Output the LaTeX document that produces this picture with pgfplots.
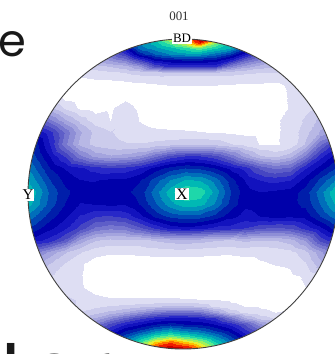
\documentclass[border=0pt]{standalone}
\usepackage{pgfplots}
\pgfplotsset{compat=1.18}
\usepackage{fontspec}
\newfontfamily\bigfont{Poppins}
\newfontfamily\labfont{Liberation Serif}
\begin{document}
\begin{tikzpicture}
\begin{axis}[name=ax, at={(0,0)}, anchor=south west, scale only axis,
  width=335bp, height=354bp, xmin=0, xmax=335, ymin=0, ymax=354,
  y dir=reverse, hide axis,
  colormap={pf}{rgb255=(255,255,255) rgb255=(222,222,243) rgb255=(204,204,236)
    rgb255=(184,184,229) rgb255=(164,164,222) rgb255=(142,142,214) rgb255=(118,118,207)
    rgb255=(94,94,200) rgb255=(70,70,194) rgb255=(40,40,200) rgb255=(18,18,190)
    rgb255=(0,0,170) rgb255=(0,30,170) rgb255=(0,70,180) rgb255=(0,110,186)
    rgb255=(0,150,186) rgb255=(0,185,180) rgb255=(30,215,170) rgb255=(90,235,140)
    rgb255=(160,240,90) rgb255=(230,240,50) rgb255=(255,190,0) rgb255=(255,110,0)
    rgb255=(240,30,0) rgb255=(200,0,0) rgb255=(200,0,0)},
  colormap access=piecewise constant,
  point meta min=0, point meta max=25]
% top region
\addplot[surf, shader=interp, mesh/rows=9, mesh/cols=17, point meta=explicit] coordinates {
(65,36)[1] (80,36)[2] (95,36)[5] (110,36)[9.5] (125,36)[13] (140,36)[15] (155,36)[17] (170,36)[21] (185,36)[24] (200,36)[25] (215,36)[22] (230,36)[17] (245,36)[15] (260,36)[13] (275,36)[8] (290,36)[4] (305,36)[3]
(65,42)[1] (80,42)[2] (95,42)[5] (110,42)[9] (125,42)[12] (140,42)[14.5] (155,42)[16] (170,42)[18] (185,42)[20] (200,42)[23.2] (215,42)[19] (230,42)[16.5] (245,42)[14] (260,42)[12] (275,42)[7] (290,42)[3.5] (305,42)[2.5]
(65,48)[1.2] (80,48)[2] (95,48)[4.5] (110,48)[8] (125,48)[10.5] (140,48)[14] (155,48)[15] (170,48)[16] (185,48)[17] (200,48)[18] (215,48)[16.5] (230,48)[15.5] (245,48)[12.5] (260,48)[10] (275,48)[6] (290,48)[3] (305,48)[2.2]
(65,54)[1.3] (80,54)[2] (95,54)[4] (110,54)[6.5] (125,54)[8.5] (140,54)[12] (155,54)[13.5] (170,54)[14.5] (185,54)[15] (200,54)[15] (215,54)[14] (230,54)[12.5] (245,54)[10] (260,54)[7.5] (275,54)[5] (290,54)[3] (305,54)[2.2]
(65,60)[1.3] (80,60)[2] (95,60)[3.5] (110,60)[5] (125,60)[6] (140,60)[8.5] (155,60)[10.8] (170,60)[11.3] (185,60)[11.6] (200,60)[11.6] (215,60)[11.2] (230,60)[9.6] (245,60)[7] (260,60)[5.5] (275,60)[4] (290,60)[2.8] (305,60)[2.2]
(65,66)[1.2] (80,66)[1.6] (95,66)[2.5] (110,66)[3] (125,66)[3.5] (140,66)[5] (155,66)[8] (170,66)[9.1] (185,66)[9.1] (200,66)[9.1] (215,66)[9.1] (230,66)[6] (245,66)[4.5] (260,66)[3.5] (275,66)[3] (290,66)[2.5] (305,66)[2.2]
(65,72)[0.9] (80,72)[1.2] (95,72)[1.5] (110,72)[1.8] (125,72)[2] (140,72)[2.5] (155,72)[2.8] (170,72)[3] (185,72)[3] (200,72)[3] (215,72)[3] (230,72)[2.6] (245,72)[2.2] (260,72)[2] (275,72)[2] (290,72)[2.2] (305,72)[2.2]
(65,78)[0.7] (80,78)[0.9] (95,78)[1.05] (110,78)[1.1] (125,78)[1.2] (140,78)[1.35] (155,78)[1.4] (170,78)[1.35] (185,78)[1.35] (200,78)[1.35] (215,78)[1.35] (230,78)[1.4] (245,78)[1.35] (260,78)[1.3] (275,78)[1.3] (290,78)[1.6] (305,78)[2]
(65,84)[0.4] (80,84)[0.5] (95,84)[0.55] (110,84)[0.65] (125,84)[0.75] (140,84)[0.85] (155,84)[0.95] (170,84)[1.05] (185,84)[1.05] (200,84)[1.05] (215,84)[1.05] (230,84)[1] (245,84)[0.9] (260,84)[0.9] (275,84)[0.8] (290,84)[1.15] (305,84)[1.6]
};
% middle region
\addplot[surf, shader=interp, mesh/rows=19, mesh/cols=23, point meta=explicit] coordinates {
(20,84)[0.5] (35,84)[0.5] (50,84)[0.5] (65,84)[0.4] (80,84)[0.5] (95,84)[0.55] (110,84)[0.65] (125,84)[0.75] (140,84)[0.85] (155,84)[0.95] (170,84)[1.05] (185,84)[1.05] (200,84)[1.05] (215,84)[1.05] (230,84)[1] (245,84)[0.9] (260,84)[0.9] (275,84)[0.8] (290,84)[1.15] (305,84)[1.6] (320,84)[2] (335,84)[2.2] (350,84)[2.2]
(20,96)[1.5] (35,96)[1.2] (50,96)[0.9] (65,96)[0.5] (80,96)[0.3] (95,96)[0.2] (110,96)[0.3] (125,96)[0.7] (140,96)[0.3] (155,96)[0.2] (170,96)[0.1] (185,96)[0.1] (200,96)[0.1] (215,96)[0.1] (230,96)[0.1] (245,96)[0.1] (260,96)[0.2] (275,96)[0.5] (290,96)[1.1] (305,96)[1.5] (320,96)[2] (335,96)[2.2] (350,96)[2.2]
(20,108)[5] (35,108)[4.5] (50,108)[3.2] (65,108)[1.8] (80,108)[0.8] (95,108)[0.6] (110,108)[0.85] (125,108)[1.35] (140,108)[0.75] (155,108)[0.3] (170,108)[0.2] (185,108)[0.2] (200,108)[0.2] (215,108)[0.2] (230,108)[0.2] (245,108)[0.2] (260,108)[0.2] (275,108)[0.5] (290,108)[1.05] (305,108)[1.6] (320,108)[2.2] (335,108)[2.5] (350,108)[2.5]
(20,120)[9] (35,120)[8] (50,120)[6] (65,120)[4] (80,120)[2.5] (95,120)[1.4] (110,120)[0.95] (125,120)[1.7] (140,120)[0.9] (155,120)[0.6] (170,120)[0.5] (185,120)[0.5] (200,120)[0.4] (215,120)[0.4] (230,120)[0.4] (245,120)[0.4] (260,120)[0.5] (275,120)[0.8] (290,120)[1.3] (305,120)[2.1] (320,120)[3.2] (335,120)[3.8] (350,120)[3.8]
(20,132)[12] (35,132)[10.5] (50,132)[9] (65,132)[6.5] (80,132)[4] (95,132)[2.6] (110,132)[2] (125,132)[1.6] (140,132)[1.3] (155,132)[1.15] (170,132)[1.1] (185,132)[1.05] (200,132)[1] (215,132)[0.9] (230,132)[0.8] (245,132)[0.7] (260,132)[0.7] (275,132)[0.8] (290,132)[1.3] (305,132)[2.5] (320,132)[4] (335,132)[5] (350,132)[5]
(20,144)[13] (35,144)[12] (50,144)[9.5] (65,144)[6] (80,144)[3.5] (95,144)[2.5] (110,144)[2.2] (125,144)[2] (140,144)[2] (155,144)[2.2] (170,144)[2.5] (185,144)[2.7] (200,144)[2.7] (215,144)[2.5] (230,144)[2] (245,144)[1.5] (260,144)[0.9] (275,144)[0.85] (290,144)[1.2] (305,144)[3] (320,144)[6.5] (335,144)[9] (350,144)[9.5]
(20,156)[14] (35,156)[12.5] (50,156)[10.5] (65,156)[8.5] (80,156)[6] (95,156)[4.5] (110,156)[4] (125,156)[4.3] (140,156)[5] (155,156)[6.5] (170,156)[8] (185,156)[8.7] (200,156)[8.7] (215,156)[8] (230,156)[6.5] (245,156)[4.5] (260,156)[3] (275,156)[2.6] (290,156)[3.5] (305,156)[6] (320,156)[9.2] (335,156)[11] (350,156)[12]
(20,168)[15.5] (35,168)[13.5] (50,168)[11.5] (65,168)[10.5] (80,168)[9.8] (95,168)[9.2] (110,168)[8.8] (125,168)[9] (140,168)[9.7] (155,168)[11] (170,168)[12] (185,168)[12.5] (200,168)[12.3] (215,168)[11.5] (230,168)[10.3] (245,168)[9.2] (260,168)[7.5] (275,168)[6.5] (290,168)[7] (305,168)[9.5] (320,168)[11] (335,168)[12.5] (350,168)[13.5]
(20,180)[16.5] (35,180)[14.5] (50,180)[12.5] (65,180)[11.2] (80,180)[10.6] (95,180)[10.5] (110,180)[10.8] (125,180)[10.8] (140,180)[11.5] (155,180)[13] (170,180)[14.5] (185,180)[15.5] (200,180)[15.3] (215,180)[14] (230,180)[12] (245,180)[10.5] (260,180)[9.6] (275,180)[9.3] (290,180)[9.6] (305,180)[11] (320,180)[12.8] (335,180)[14.5] (350,180)[15.5]
(20,192)[17] (35,192)[15.5] (50,192)[13.2] (65,192)[11.8] (80,192)[11] (95,192)[11.2] (110,192)[11.5] (125,192)[11.3] (140,192)[12] (155,192)[14] (170,192)[16] (185,192)[17.3] (200,192)[17] (215,192)[15] (230,192)[12.6] (245,192)[11] (260,192)[10.6] (275,192)[10.8] (290,192)[11] (305,192)[12] (320,192)[14] (335,192)[16.3] (350,192)[17]
(20,204)[16.5] (35,204)[15] (50,204)[13] (65,204)[11.5] (80,204)[10.5] (95,204)[10.6] (110,204)[10.8] (125,204)[10.7] (140,204)[11.6] (155,204)[13.3] (170,204)[15] (185,204)[16] (200,204)[15.8] (215,204)[14.3] (230,204)[12.2] (245,204)[10.8] (260,204)[11] (275,204)[11.3] (290,204)[11.2] (305,204)[11.8] (320,204)[13.5] (335,204)[15.5] (350,204)[16.5]
(20,216)[15] (35,216)[13.5] (50,216)[12] (65,216)[10.8] (80,216)[9.5] (95,216)[8.7] (110,216)[8.6] (125,216)[9] (140,216)[10.3] (155,216)[11.8] (170,216)[12.8] (185,216)[13.2] (200,216)[13] (215,216)[12.2] (230,216)[11] (245,216)[10.2] (260,216)[10.6] (275,216)[11] (290,216)[10.8] (305,216)[11] (320,216)[12.5] (335,216)[14] (350,216)[15]
(20,228)[13] (35,228)[12] (50,228)[10.8] (65,228)[9.8] (80,228)[8.3] (95,228)[6.5] (110,228)[6] (125,228)[6.3] (140,228)[7.5] (155,228)[8.8] (170,228)[9.9] (185,228)[10.3] (200,228)[9.9] (215,228)[9.3] (230,228)[9.2] (245,228)[8.6] (260,228)[7.8] (275,228)[7.5] (290,228)[7.8] (305,228)[9] (320,228)[10.3] (335,228)[12] (350,228)[13]
(20,240)[11] (35,240)[10] (50,240)[9.2] (65,240)[7.5] (80,240)[4.5] (95,240)[3] (110,240)[2.6] (125,240)[2.6] (140,240)[2.6] (155,240)[3] (170,240)[3.3] (185,240)[3.5] (200,240)[3.3] (215,240)[3] (230,240)[2.8] (245,240)[3.1] (260,240)[2.9] (275,240)[2.9] (290,240)[3.4] (305,240)[5] (320,240)[8] (335,240)[9.5] (350,240)[10.5]
(20,252)[7.5] (35,252)[6] (50,252)[4.5] (65,252)[3] (80,252)[2] (95,252)[1.3] (110,252)[1.1] (125,252)[1.1] (140,252)[1.2] (155,252)[1.3] (170,252)[1.4] (185,252)[1.4] (200,252)[1.3] (215,252)[1.2] (230,252)[1.1] (245,252)[1.2] (260,252)[1.2] (275,252)[1.3] (290,252)[1.6] (305,252)[2.5] (320,252)[4.5] (335,252)[6.5] (350,252)[7.5]
(20,264)[5] (35,264)[4] (50,264)[2.8] (65,264)[1.8] (80,264)[1.1] (95,264)[0.5] (110,264)[0.3] (125,264)[0.3] (140,264)[0.3] (155,264)[0.3] (170,264)[0.3] (185,264)[0.3] (200,264)[0.35] (215,264)[0.4] (230,264)[0.5] (245,264)[0.6] (260,264)[0.85] (275,264)[1] (290,264)[1.1] (305,264)[1.8] (320,264)[3.5] (335,264)[5] (350,264)[6]
(20,276)[3] (35,276)[2.5] (50,276)[2] (65,276)[1.5] (80,276)[1.05] (95,276)[0.4] (110,276)[0.2] (125,276)[0.2] (140,276)[0.2] (155,276)[0.2] (170,276)[0.2] (185,276)[0.2] (200,276)[0.2] (215,276)[0.2] (230,276)[0.3] (245,276)[0.4] (260,276)[0.5] (275,276)[0.6] (290,276)[0.8] (305,276)[1.05] (320,276)[1.5] (335,276)[2.5] (350,276)[2.5]
(20,288)[2.5] (35,288)[2.2] (50,288)[1.8] (65,288)[1.5] (80,288)[1.1] (95,288)[0.6] (110,288)[0.4] (125,288)[0.4] (140,288)[0.4] (155,288)[0.4] (170,288)[0.4] (185,288)[0.4] (200,288)[0.4] (215,288)[0.4] (230,288)[0.4] (245,288)[0.4] (260,288)[0.45] (275,288)[0.5] (290,288)[0.7] (305,288)[0.95] (320,288)[1.3] (335,288)[2] (350,288)[2]
(20,300)[3] (35,300)[2.8] (50,300)[2.5] (65,300)[2.2] (80,300)[1.8] (95,300)[1.3] (110,300)[1.1] (125,300)[1.1] (140,300)[1.1] (155,300)[1.1] (170,300)[1.1] (185,300)[1.05] (200,300)[1] (215,300)[1] (230,300)[0.9] (245,300)[0.8] (260,300)[0.7] (275,300)[0.7] (290,300)[0.8] (305,300)[1] (320,300)[1.2] (335,300)[1.5] (350,300)[1.5]
};
% bottom region
\addplot[surf, shader=interp, mesh/rows=10, mesh/cols=17, point meta=explicit] coordinates {
(65,300)[2.2] (80,300)[1.8] (95,300)[1.3] (110,300)[1.1] (125,300)[1.1] (140,300)[1.1] (155,300)[1.1] (170,300)[1.1] (185,300)[1.05] (200,300)[1] (215,300)[1] (230,300)[0.9] (245,300)[0.8] (260,300)[0.7] (275,300)[0.7] (290,300)[0.8] (305,300)[1]
(65,306)[2.2] (80,306)[1.8] (95,306)[1.7] (110,306)[2] (125,306)[2.2] (140,306)[2.5] (155,306)[2.8] (170,306)[3] (185,306)[3] (200,306)[2.8] (215,306)[1.6] (230,306)[1.1] (245,306)[0.95] (260,306)[0.85] (275,306)[0.7] (290,306)[0.8] (305,306)[1.05]
(65,312)[2.2] (80,312)[2] (95,312)[2.5] (110,312)[3.2] (125,312)[4] (140,312)[5] (155,312)[6] (170,312)[6.5] (185,312)[6.5] (200,312)[6.2] (215,312)[4.5] (230,312)[2.5] (245,312)[1.6] (260,312)[1.2] (275,312)[0.95] (290,312)[1.1] (305,312)[1.5]
(65,318)[2.5] (80,318)[3] (95,318)[4] (110,318)[5.5] (125,318)[7] (140,318)[8.3] (155,318)[9.3] (170,318)[9.8] (185,318)[9.8] (200,318)[9.6] (215,318)[8.8] (230,318)[6.5] (245,318)[4] (260,318)[2.5] (275,318)[1.8] (290,318)[2] (305,318)[2.2]
(65,324)[3] (80,324)[4] (95,324)[6] (110,324)[8] (125,324)[9.5] (140,324)[10.5] (155,324)[11.5] (170,324)[12] (185,324)[11.5] (200,324)[11.3] (215,324)[10.5] (230,324)[9.3] (245,324)[7.5] (260,324)[5] (275,324)[3.5] (290,324)[3] (305,324)[3]
(65,330)[3.5] (80,330)[5] (95,330)[7.5] (110,330)[9.5] (125,330)[11.3] (140,330)[12.5] (155,330)[14] (170,330)[15] (185,330)[14] (200,330)[13.5] (215,330)[12.3] (230,330)[11] (245,330)[8.8] (260,330)[7] (275,330)[5] (290,330)[4] (305,330)[4]
(65,336)[4] (80,336)[6] (95,336)[8.5] (110,336)[11] (125,336)[13] (140,336)[15] (155,336)[17] (170,336)[18] (185,336)[17] (200,336)[16] (215,336)[14.5] (230,336)[12.5] (245,336)[10.2] (260,336)[8] (275,336)[6] (290,336)[5] (305,336)[5]
(65,342)[4] (80,342)[6.5] (95,342)[9] (110,342)[12] (125,342)[15] (140,342)[17.5] (155,342)[20.5] (170,342)[22] (185,342)[20.5] (200,342)[19] (215,342)[16.5] (230,342)[14] (245,342)[11.5] (260,342)[9] (275,342)[6.5] (290,342)[5] (305,342)[5]
(65,348)[4] (80,348)[7] (95,348)[9.5] (110,348)[13] (125,348)[16.5] (140,348)[19.5] (155,348)[23] (170,348)[24] (185,348)[23.5] (200,348)[21] (215,348)[18] (230,348)[15] (245,348)[12] (260,348)[9.5] (275,348)[7] (290,348)[5] (305,348)[5]
(65,354)[4] (80,354)[7] (95,354)[10] (110,354)[13.5] (125,354)[17] (140,354)[20] (155,354)[23.5] (170,354)[24.5] (185,354)[24] (200,354)[22] (215,354)[19] (230,354)[15.5] (245,354)[12.5] (260,354)[10] (275,354)[7] (290,354)[5] (305,354)[5]
};
\fill[white, even odd rule] (axis cs:-40,-40) rectangle (axis cs:380,400) (axis cs:183,194) circle[radius=155bp];
\draw[black!75, line width=0.9bp] (axis cs:183,194) circle[radius=155bp];
\node[text=black!80, font=\labfont\fontsize{13}{13}\selectfont] at (axis cs:179,16) {001};
\node[fill=white, inner sep=1.5bp, font=\labfont\fontsize{13}{13}\selectfont] at (axis cs:182,38) {BD};
\node[fill=white, inner sep=1bp, font=\labfont\fontsize{15}{15}\selectfont] at (axis cs:28,195) {Y};
\node[fill=white, inner sep=1.2bp, font=\labfont\fontsize{16}{16}\selectfont] at (axis cs:182,194) {X};
\node[anchor=base east, inner sep=0pt, text=black!90, font=\bigfont\fontsize{45}{45}\selectfont] at (axis cs:26,56) {e};
\node[anchor=base west, inner sep=0pt, text=black!90, font=\bigfont\fontsize{82}{82}\selectfont] at (axis cs:-1,399) {tor};
\end{axis}
\pgfresetboundingbox
\path[use as bounding box] (ax.south west) rectangle (ax.north east);
\end{tikzpicture}
\end{document}
